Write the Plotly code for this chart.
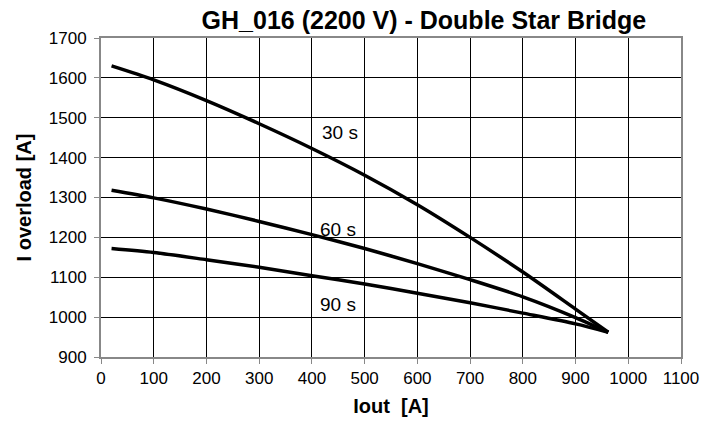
import plotly.graph_objects as go

x_30 = [20, 100, 200, 300, 400, 500, 600, 700, 800, 900, 962]
y_30 = [1630, 1595, 1543, 1485, 1423, 1356, 1282, 1200, 1113, 1020, 962]
x_60 = [20, 100, 200, 300, 400, 500, 600, 700, 800, 900, 962]
y_60 = [1318, 1299, 1271, 1240, 1207, 1172, 1134, 1094, 1051, 999, 962]
x_90 = [20, 100, 200, 300, 400, 500, 600, 700, 800, 900, 962]
y_90 = [1172, 1162, 1144, 1125, 1104, 1083, 1060, 1036, 1010, 983, 962]
labels = ["30 s", "60 s", "90 s"]
label_x = [453, 450, 450]
label_y = [1462, 1219, 1031]

font = "Liberation Sans, Arial, sans-serif"
fig = go.Figure()
for xs, ys in [(x_30, y_30), (x_60, y_60), (x_90, y_90)]:
    fig.add_trace(go.Scatter(x=xs, y=ys, mode="lines",
                             line=dict(color="black", width=3.5, shape="spline", smoothing=0.8),
                             showlegend=False, hoverinfo="skip"))
for t, lx, ly in zip(labels, label_x, label_y):
    fig.add_annotation(x=lx, y=ly, text=t, showarrow=False,
                       font=dict(family=font, size=19, color="black"))

axis_common = dict(showgrid=True, gridcolor="black", gridwidth=1, showline=True,
                   linecolor="#888888", linewidth=2, mirror=True, ticks="outside",
                   ticklen=5, tickcolor="#888888", zeroline=False, automargin=False,
                   tickfont=dict(family=font, size=17, color="black"))
fig.update_xaxes(range=[0, 1100], dtick=100, tick0=0,
                 title=dict(text="<b>Iout  [A]</b>", font=dict(family=font, size=20, color="black"), standoff=12),
                 **axis_common)
fig.update_yaxes(range=[900, 1700], dtick=100, tick0=900, ticklabelstandoff=4,
                 title=dict(text="<b>I overload [A]</b>", font=dict(family=font, size=20, color="black"), standoff=12),
                 **axis_common)
fig.update_layout(
    width=703, height=423,
    margin=dict(l=101, r=22, t=38, b=66),
    paper_bgcolor="white", plot_bgcolor="white",
    title=dict(text="<b>GH_016 (2200 V) - Double Star Bridge</b>", x=0.603, xanchor="center",
               y=0.952, yanchor="middle", font=dict(family=font, size=25, color="black")),
)
fig.write_html("out.html")
